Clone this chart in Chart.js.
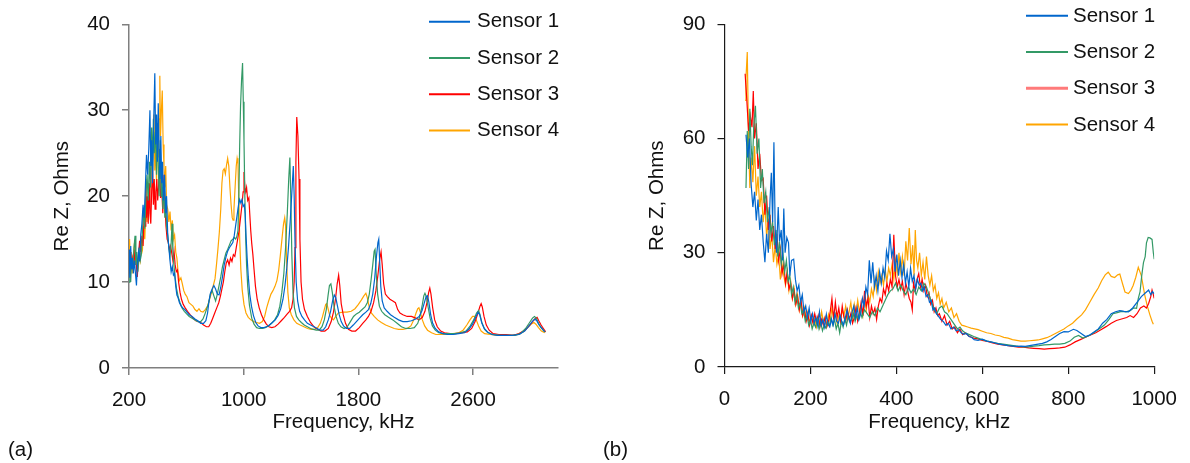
<!DOCTYPE html>
<html>
<head>
<meta charset="utf-8">
<script src="https://cdn.jsdelivr.net/npm/chart.js@4.4.1/dist/chart.umd.min.js"></script>
<style>
  html, body { margin: 0; padding: 0; background: #fff; }
  #wrap { position: relative; width: 1190px; height: 463px; }
  canvas { position: absolute; top: 0; }
</style>
</head>
<body>
<div id="wrap">
  <canvas id="chart-a" width="595" height="463" style="left:0"></canvas>
  <canvas id="chart-b" width="595" height="463" style="left:595px"></canvas>
</div>
<script>
// Panel (a): [frequency kHz, Re Z Ohms]
const s1a = [[200,13.8],[206,10.5],[212,14.2],[218,11.5],[224,12.8],[230,11],[238,12.5],[246,10.8],[252,9.6],[258,12],[266,13.5],[274,12.4],[282,15.5],[290,16.8],[298,19],[306,17.5],[314,21],[322,24.8],[330,22.5],[338,25.5],[346,30],[352,23.5],[358,26.5],[364,21.5],[372,28.5],[380,34.3],[386,26],[392,29.5],[398,24],[404,30.8],[410,25.5],[416,22],[422,27],[428,21.5],[434,24],[440,19.5],[448,22.5],[456,18],[462,20],[470,15.5],[478,14],[486,12.5],[494,11.2],[502,11.8],[510,10.8],[518,11],[526,9.5],[534,8.5],[542,8.2],[552,7.6],[564,7.2],[576,7],[590,6.8],[604,6.5],[620,6.2],[640,6],[660,5.7],[680,5.5],[700,5.2],[720,5.2],[736,5.5],[748,6.4],[758,7.8],[768,8.7],[780,9.2],[792,9.6],[804,9.2],[816,8.6],[828,8.5],[840,9.4],[852,10.6],[864,12],[876,12.9],[888,13.6],[900,14],[912,14.3],[924,14.6],[934,15.4],[944,16.6],[954,17.8],[964,19],[972,19.6],[980,19.2],[988,19.6],[996,18.8],[1004,19],[1010,18],[1016,15.5],[1024,12.8],[1032,10.6],[1042,8.6],[1054,7.2],[1068,6.1],[1084,5.3],[1100,4.9],[1120,4.7],[1140,4.7],[1160,4.8],[1180,5],[1200,5.3],[1220,5.6],[1240,6.1],[1258,6.9],[1274,8],[1288,9.6],[1300,11.5],[1312,14],[1324,17],[1336,20.5],[1346,23.5],[1352,20],[1358,14.5],[1366,10],[1376,7.8],[1390,6.6],[1406,6],[1424,5.6],[1444,5.2],[1466,5],[1490,4.8],[1512,4.6],[1534,4.4],[1554,4.4],[1572,4.8],[1590,5.6],[1606,6.6],[1620,7.8],[1632,8.5],[1642,8.2],[1654,7.2],[1666,6.2],[1680,5.4],[1696,4.9],[1716,4.6],[1740,4.6],[1764,5],[1786,5.4],[1808,5.8],[1830,6.2],[1852,6.5],[1870,6.8],[1886,7.5],[1900,8.6],[1914,10.5],[1926,13],[1936,14.6],[1942,15],[1948,12.5],[1956,9.5],[1966,7.8],[1980,7],[2000,6.6],[2024,6.2],[2050,5.9],[2080,5.6],[2110,5.4],[2140,5.4],[2170,5.5],[2200,5.7],[2224,6],[2244,6.7],[2260,7.6],[2272,8.3],[2282,8.4],[2292,7.6],[2304,6.2],[2318,5.2],[2336,4.6],[2360,4.2],[2390,4],[2420,3.9],[2460,3.9],[2500,4],[2540,4.1],[2570,4.5],[2596,5.1],[2618,5.9],[2634,6.5],[2646,6.2],[2660,5.3],[2678,4.6],[2700,4.2],[2730,3.9],[2770,3.8],[2820,3.8],[2870,3.8],[2920,3.9],[2960,4.3],[2990,4.9],[3012,5.4],[3030,5.7],[3044,5.5],[3060,5],[3080,4.6],[3100,4.2]];
const s2a = [[200,10],[206,12.5],[212,10],[218,12.8],[226,11.5],[234,13.8],[242,15.4],[248,12],[254,13.5],[262,11.2],[270,14],[278,12.5],[286,13.2],[294,16],[302,18.5],[310,16.2],[318,20],[326,22.5],[334,19.5],[342,24],[350,21],[358,28],[364,23],[370,29],[376,25],[384,27.5],[392,22.5],[398,28.5],[404,24],[410,20],[418,26.5],[424,20],[430,23],[436,18.5],[442,21.5],[450,17.5],[456,19.8],[462,16.5],[470,15.5],[478,14],[486,13],[494,14.5],[500,16.8],[506,13.5],[514,11.8],[522,10.5],[532,9.2],[544,8.2],[556,7.6],[570,7],[586,6.6],[602,6.3],[620,6],[640,5.8],[660,5.6],[680,5.4],[700,5.4],[716,5.7],[730,6.3],[744,7],[756,7.6],[768,8.6],[780,9],[792,8.4],[804,7.8],[816,8.6],[828,9.6],[840,10.6],[852,11.8],[864,12.6],[876,13.4],[888,13.8],[900,14.3],[912,14.8],[924,15],[934,15.2],[944,15],[952,15.3],[960,16],[966,20],[972,26],[978,30.5],[985,33.5],[992,35.5],[997,31],[1002,26.5],[1008,20],[1014,15],[1020,12],[1028,9.5],[1040,7.3],[1056,5.8],[1072,5.1],[1090,4.7],[1110,4.6],[1130,4.6],[1150,4.7],[1172,4.9],[1194,5.2],[1216,5.6],[1236,6.2],[1252,7.2],[1266,8.8],[1280,11],[1292,14],[1304,18],[1314,22],[1322,24.5],[1328,20],[1336,13],[1344,8.8],[1354,7],[1368,6],[1384,5.6],[1402,5.3],[1422,5],[1444,4.8],[1466,4.6],[1486,4.5],[1506,4.4],[1526,4.4],[1546,4.8],[1562,5.6],[1576,6.8],[1588,8.4],[1598,9.6],[1608,9.8],[1618,8.8],[1630,7.2],[1644,6],[1660,5.2],[1678,4.8],[1700,4.6],[1722,4.8],[1744,5.4],[1766,6],[1786,6.3],[1806,6.5],[1826,6.8],[1846,7.1],[1862,7.6],[1876,8.6],[1888,10.2],[1900,12],[1910,13.6],[1916,13.8],[1924,11],[1934,8.6],[1946,7.2],[1962,6.6],[1984,6.2],[2010,5.9],[2040,5.6],[2070,5.2],[2100,4.8],[2130,4.6],[2160,4.6],[2190,4.7],[2214,5.2],[2232,6.2],[2246,7.4],[2256,8.4],[2264,8.7],[2274,8.3],[2286,7.1],[2300,5.8],[2316,4.9],[2336,4.4],[2360,4.1],[2390,4],[2430,4],[2470,4],[2510,4.1],[2550,4.3],[2580,4.9],[2604,5.6],[2624,6.4],[2638,6.7],[2648,6.2],[2662,5.2],[2680,4.5],[2704,4.1],[2740,3.9],[2790,3.8],[2840,3.8],[2890,3.8],[2930,4],[2966,4.6],[2994,5.3],[3014,5.8],[3028,6],[3040,5.8],[3056,5.2],[3074,4.7],[3094,4.3],[3104,4.2]];
const s3a = [[200,12],[206,11],[212,13],[218,11.5],[226,12.8],[234,11.8],[242,13.8],[250,12.2],[258,10.6],[266,13],[274,14.8],[282,13.5],[290,15.4],[298,14.2],[306,18],[312,16.5],[317,22],[322,17.5],[328,20],[334,16.8],[340,21.5],[346,18],[352,16.8],[358,20.5],[364,23.8],[370,19],[376,22],[382,18.5],[388,20.5],[394,22],[400,19.5],[406,21],[414,24],[420,19.8],[428,21],[436,18],[444,22.5],[450,19],[458,16.5],[466,15],[474,14.6],[482,13.8],[490,14.2],[498,13.4],[506,12.5],[514,13.6],[522,12],[530,11.2],[538,11.4],[546,10],[556,8.8],[566,8],[578,7.4],[592,7],[608,6.6],[626,6.2],[646,5.8],[666,5.5],[684,5.4],[700,5.3],[720,5],[740,4.8],[756,4.8],[770,5.2],[784,5.8],[798,6.4],[812,7],[826,7.6],[838,8.4],[848,9.2],[858,10],[868,11.2],[878,12.2],[888,12.6],[898,12],[908,12.8],[918,12.4],[928,13.2],[938,13],[948,14],[958,15],[968,16],[978,17.5],[988,19],[996,20.5],[1002,22.8],[1008,21],[1014,20.5],[1020,21],[1028,19.5],[1036,19.8],[1042,18],[1049,16],[1056,14.5],[1064,13.2],[1072,11.5],[1082,9.5],[1094,8],[1108,7],[1124,6.2],[1140,5.6],[1158,5.1],[1176,4.8],[1196,4.7],[1218,4.8],[1240,5.1],[1262,5.5],[1284,5.9],[1304,6.3],[1320,6.6],[1334,7],[1344,8],[1352,10],[1358,14],[1364,24],[1370,29.2],[1378,27],[1386,22],[1392,15],[1400,10],[1410,8],[1424,6.8],[1444,6],[1466,5.3],[1490,4.8],[1514,4.5],[1540,4.3],[1566,4.3],[1590,4.6],[1610,5.4],[1626,6.5],[1640,8],[1652,9.8],[1662,10.8],[1670,9.6],[1680,7.5],[1694,6.2],[1710,5.2],[1730,4.5],[1754,4.3],[1780,4.3],[1806,4.7],[1830,5.2],[1852,5.6],[1870,6],[1888,6.6],[1906,7.6],[1922,9],[1936,10.8],[1948,12.6],[1958,13.5],[1966,12],[1976,9.8],[1988,8.6],[2002,8.3],[2020,8],[2040,7.8],[2058,7.6],[2074,6.8],[2090,6.4],[2110,6.2],[2140,6],[2170,6],[2200,5.8],[2224,5.6],[2246,5.9],[2264,6.6],[2278,7.6],[2290,8.8],[2298,9.3],[2306,8.6],[2318,7],[2332,5.6],[2350,4.8],[2374,4.3],[2400,4.1],[2440,4],[2480,4],[2520,4.1],[2560,4.2],[2590,4.6],[2614,5.4],[2634,6.4],[2648,7.2],[2656,7.5],[2664,7.1],[2676,6],[2692,5],[2712,4.4],[2740,4],[2780,3.9],[2830,3.9],[2880,3.8],[2920,4],[2960,4.4],[2996,5],[3020,5.5],[3036,5.8],[3046,5.9],[3058,5.5],[3074,5],[3090,4.6],[3106,4.2]];
const s4a = [[200,11.5],[204,15],[210,12],[216,13.5],[222,11],[230,12.8],[238,14.5],[246,12],[254,13],[262,11.8],[270,13.2],[278,12.5],[286,14.5],[294,13.8],[302,16.5],[310,15],[318,18.5],[326,17],[334,21.5],[342,19],[350,24],[356,27.5],[362,22],[368,25.5],[374,29.5],[380,23],[386,26.5],[392,21.5],[398,28],[404,24.5],[410,29],[415,34],[420,27],[426,30],[432,32.3],[438,26],[444,23.5],[450,21],[456,23.5],[462,19],[470,18.5],[478,17],[486,18.2],[494,16],[502,17.2],[510,15],[518,15.5],[526,13.5],[534,12.8],[542,11.2],[552,10.2],[562,10.5],[572,9.8],[582,9],[592,8.6],[604,8.3],[618,7.6],[632,7.4],[646,7.2],[660,6.8],[674,6.6],[688,6.9],[700,6.6],[716,6.5],[732,6.8],[748,7.2],[762,8],[776,8.8],[788,9.6],[800,10.4],[810,12],[820,13.8],[830,15.8],[840,18.5],[848,21.5],[856,23],[864,23.2],[872,22.6],[880,23.6],[888,24.4],[896,23.5],[904,21],[912,19],[920,17.5],[926,17.2],[932,18.5],[940,21],[948,23.5],[954,24.4],[960,23.8],[966,19.5],[972,15],[980,11.5],[990,9],[1002,7.4],[1016,6.4],[1032,5.9],[1050,5.6],[1070,5.4],[1090,5.3],[1110,5.2],[1130,5.4],[1146,6],[1160,7],[1174,7.8],[1190,8.6],[1204,9],[1218,9.5],[1232,10.2],[1244,11.4],[1256,13.2],[1268,15.2],[1278,16.8],[1286,17.5],[1292,16.5],[1300,12],[1308,8.8],[1318,7],[1332,6.2],[1350,5.6],[1370,5.2],[1394,5],[1420,4.8],[1446,4.6],[1470,4.5],[1494,4.5],[1516,4.7],[1534,5.2],[1550,6],[1562,6.8],[1572,7.4],[1580,7.5],[1590,6.8],[1600,6.1],[1612,5.8],[1626,5.6],[1642,6],[1660,6.4],[1690,6.5],[1720,6.5],[1750,6.6],[1776,6.9],[1800,7.4],[1820,7.9],[1838,8.4],[1852,8.7],[1862,8.2],[1874,7.2],[1890,6.4],[1910,6],[1934,5.6],[1960,5.3],[1990,5],[2020,4.8],[2050,4.6],[2080,4.5],[2110,4.5],[2140,4.6],[2166,4.9],[2186,5.6],[2202,6.4],[2214,6.9],[2222,7],[2232,6.5],[2246,5.6],[2262,4.9],[2282,4.4],[2310,4.1],[2340,3.9],[2380,3.9],[2420,3.9],[2460,4],[2500,4.1],[2530,4.4],[2556,5],[2578,5.6],[2596,6],[2610,6],[2622,5.6],[2638,4.9],[2656,4.3],[2680,4],[2720,3.9],[2770,3.8],[2820,3.8],[2870,3.8],[2910,3.9],[2950,4.2],[2980,4.7],[3004,5.1],[3024,5.3],[3038,5.1],[3056,4.7],[3076,4.3],[3100,4.1]];

// Panel (b)
const s1b = [[50,61],[54,55],[58,60],[62,48],[66,42],[70,46],[74,38.5],[78,44],[82,36],[86,40],[90,33],[94,27.5],[98,35],[102,30],[106,44],[109,51],[112,38],[115,59],[118,36],[121,30],[125,42],[128,33],[132,36],[135,28],[138,41.6],[141,30],[145,34],[149,32.6],[152,24],[156,28],[161,28.3],[165,23],[169,20],[173,21.5],[177,17],[181,19],[185,14.5],[189,16],[193,13],[197,15.5],[201,12],[205,14],[209,11.5],[213,13],[217,10.8],[221,14.5],[225,11],[229,12.5],[233,10.5],[237,13.8],[241,11.2],[245,10.5],[249,12.5],[253,11],[257,14],[261,12],[265,11.5],[269,13.5],[273,12],[277,11],[281,12.8],[285,15],[289,13],[293,11.5],[297,14.5],[301,16],[305,13],[309,15.5],[313,12.5],[317,14],[321,18],[325,16],[329,21],[333,19],[337,28],[341,22],[345,27.5],[349,21],[353,24],[357,20],[361,25],[365,22],[369,26],[373,23.5],[377,30.5],[381,28],[385,35],[389,29],[393,31],[397,25],[401,29.5],[405,24],[409,28],[413,23.5],[417,27],[421,22],[425,25],[429,21],[433,26],[437,22.5],[441,24],[445,20.5],[449,23],[453,21.5],[457,22],[461,20],[465,21],[469,18.5],[473,19],[477,17],[481,17.5],[485,15],[489,15.5],[493,14],[497,13.5],[503,12.5],[509,12],[515,11],[521,11.5],[527,10],[533,10.5],[539,9.5],[545,9.8],[551,9],[557,8.6],[563,8.8],[569,8],[575,7.8],[581,7.2],[590,7],[600,7.3],[610,6.8],[620,6.6],[630,6.3],[640,6],[650,5.8],[660,5.6],[670,5.5],[680,5.4],[690,5.5],[700,5.4],[710,5.6],[720,5.8],[730,6],[740,6.2],[750,6.6],[760,7.2],[770,8],[780,8.8],[790,9.3],[800,9.2],[812,9.9],[820,9.6],[830,8.8],[840,8],[850,8.4],[860,9.2],[870,10],[880,11.5],[890,12.5],[900,14],[910,14.5],[920,14.8],[930,14.6],[940,14.5],[950,15.5],[960,17],[970,18.5],[980,19.5],[987,20.2],[992,19],[996,19.8],[1000,19.2]];
const s2b = [[50,47],[53,62],[56,52],[59,67.8],[62,58],[65,53],[68,63],[72,68.6],[76,56],[80,60],[84,47],[88,52],[92,43],[96,46],[100,38],[104,42],[108,35],[112,38],[116,32],[120,36],[124,29],[128,33],[132,27],[136,30],[140,25],[144,28],[148,22.5],[152,24],[156,19],[160,21],[164,17],[168,19],[172,15.5],[176,17],[180,14],[184,15],[188,12],[192,13.5],[196,11],[200,12.5],[204,10],[208,11.5],[212,10.5],[216,12.5],[220,10],[224,11.8],[228,9.5],[232,11],[236,10.2],[240,12],[244,10.8],[248,13],[252,11],[256,12.5],[260,10],[264,11.5],[268,9],[272,12],[276,10.5],[280,12.8],[284,11],[288,13.5],[292,11.8],[296,12.5],[300,14],[304,12],[308,13.5],[312,12.5],[316,14.5],[320,13],[326,15],[332,14],[338,13],[344,14.5],[350,13.5],[356,15.5],[362,14.5],[368,16],[374,17.5],[380,19],[386,20],[392,20.5],[398,22],[404,20],[410,21.5],[416,20],[422,19],[428,21],[434,19.5],[440,20.5],[446,19],[452,21],[458,20],[464,22],[470,21],[476,19],[482,17],[488,15],[494,14],[500,15.5],[506,16],[512,14.5],[518,14],[524,13],[530,12],[536,11],[542,10],[548,10.5],[554,9.5],[560,9],[570,8.5],[580,8],[590,7.6],[600,7.2],[612,6.8],[624,6.5],[636,6.2],[648,6],[660,5.8],[672,5.6],[684,5.4],[696,5.3],[708,5.3],[720,5.5],[732,5.6],[744,5.8],[756,5.9],[768,6],[780,6],[792,6.2],[804,6.8],[814,7.8],[824,8.3],[834,7.6],[844,8],[854,8.6],[864,9.4],[874,10.2],[884,11],[894,12.4],[904,14],[914,14.3],[924,14.6],[934,14.5],[944,14.8],[952,15.5],[959,15.4],[963,18],[967,19.7],[971,24],[975,27.4],[979,29],[982,32.6],[986,34],[990,33.9],[995,33.5],[998,30],[1000,28.3]];
const s3b = [[48,77],[52,70],[56,62],[60,66],[64,63],[67,72.5],[70,60],[74,64],[78,52],[82,56],[86,49],[90,49.5],[94,40],[98,45],[102,36],[106,40],[110,33],[114,37],[118,31],[122,35],[126,28],[130,31],[134,24.5],[138,27],[142,22],[146,25],[150,20.5],[154,22],[158,18],[162,20],[166,16.5],[170,18.5],[174,15],[178,17.5],[182,13.5],[186,15],[190,12],[194,14],[198,11],[202,13.5],[206,11.5],[210,14],[214,12],[218,13.5],[222,10.5],[226,12.5],[230,11],[234,13],[238,10.5],[242,12],[246,14.5],[250,18],[254,12.5],[258,17],[262,13],[266,15.5],[270,12],[274,16],[278,13],[282,12],[286,15],[290,12.5],[294,14],[298,11.5],[302,13],[306,15.5],[310,12],[314,14],[318,17],[322,13.5],[326,20],[330,16],[334,18],[338,13],[342,16],[346,14],[350,15.5],[354,12.5],[358,16],[362,18],[366,17],[370,20.5],[374,19],[378,22],[382,20],[386,23],[390,21],[394,34.7],[398,24],[402,21],[406,23],[410,20.5],[414,22.5],[418,19],[422,22],[426,20],[430,18],[434,17],[437,15],[440,22],[444,20],[448,23],[452,24.5],[456,21],[460,23],[464,20],[468,21.5],[472,18.5],[476,19.5],[480,16.5],[484,17.5],[488,14.5],[492,15.5],[496,13.5],[500,14],[506,12],[512,13.5],[518,11],[524,12],[530,10],[536,10.5],[542,9],[548,10],[554,8.5],[560,9],[570,8],[580,7.6],[590,7.4],[600,7],[612,6.7],[624,6.3],[636,6],[648,5.8],[660,5.6],[672,5.4],[684,5.2],[696,5.2],[708,5],[720,4.9],[732,4.8],[744,4.7],[756,4.8],[768,4.9],[780,5],[792,5.2],[804,5.8],[816,6.6],[828,7.2],[840,7.8],[852,8.4],[864,9],[876,9.8],[888,10.6],[900,11.5],[912,12.2],[924,12.6],[936,13],[944,13.5],[952,13],[960,14],[968,15.5],[976,16],[982,15.5],[987,16.7],[992,18.5],[995,20.2],[998,19],[1000,18]];
const s4b = [[48,70],[50,76],[53,82.7],[56,60],[59,47],[62,55],[66,48.5],[70,58],[74,45],[78,50],[82,42],[86,46],[90,38],[94,43],[98,34],[102,39],[106,31],[110,35],[114,27.5],[118,32],[122,27],[126,29.5],[130,23],[134,27],[138,24],[142,21.5],[146,25],[150,20],[154,22.5],[158,18],[162,20.5],[166,16.5],[170,19],[174,15],[178,17.5],[182,13.5],[186,15.5],[190,12.5],[194,14.5],[198,11.5],[202,13.5],[206,11.8],[210,12.8],[214,10.5],[218,13],[222,11.5],[226,14.5],[230,12],[234,13],[238,11],[242,13.8],[246,12],[250,15.5],[254,12.8],[258,14],[262,11.5],[266,13.5],[270,12],[274,15],[278,13.5],[282,16],[286,12.5],[290,14.5],[294,17],[298,13],[302,16.5],[306,14],[310,17.5],[314,14.5],[318,16],[322,13.5],[326,18],[330,15],[334,19],[338,17],[342,20.5],[346,18.5],[350,23],[354,20],[358,25],[362,22],[366,24],[370,21.5],[374,25.5],[378,22.5],[382,26],[386,24],[390,27],[394,23],[398,28],[402,24.5],[406,30],[410,25],[414,29],[418,24],[422,33],[426,28],[430,36.5],[434,27],[438,32],[441,24],[444,36],[447,28],[450,26],[454,30],[458,24],[462,27.5],[466,23],[470,29],[474,24],[478,21.5],[482,24],[486,20],[490,21.5],[494,18],[498,19.5],[502,16.5],[506,18],[510,15.5],[516,17],[522,14.5],[528,15.5],[534,13],[540,14],[546,12],[552,11],[558,10.8],[566,10.5],[574,10.2],[582,10],[590,9.8],[600,9.4],[610,9],[620,8.8],[630,8.4],[640,8.2],[650,7.8],[660,7.6],[670,7.2],[680,7],[690,6.8],[700,6.8],[710,6.9],[720,7],[730,7.1],[740,7.4],[750,7.7],[760,8.2],[770,8.8],[780,9.4],[790,10],[800,10.8],[810,11.5],[820,12.6],[831,13.7],[840,15],[850,17],[860,19],[870,20.8],[878,22.7],[886,24.2],[893,24.9],[900,23.8],[908,23.5],[915,24.2],[920,24.4],[926,22],[932,19.7],[940,19.3],[946,20.2],[951,21.4],[957,23.5],[963,26.2],[970,24],[978,18.9],[984,16],[990,13.7],[995,12],[998,11.2]];

const sensorNames = ['Sensor 1', 'Sensor 2', 'Sensor 3', 'Sensor 4'];
const xTicksA = [200, 1000, 1800, 2600];
const yTicksA = [0, 10, 20, 30, 40];
const xTicksB = [0, 200, 400, 600, 800, 1000];
const yTicksB = [0, 30, 60, 90];
const xTitle = 'Frequency, kHz';
const yTitle = 'Re Z, Ohms';

const sensorColors = ['#0066cc', '#339966', '#ff0000', '#ffa500'];
const FONT = "'Liberation Sans', Arial, Helvetica, sans-serif";
const FONT_SIZE = 20.5;

// draws the line-sample legend inside the plot, plus the (a)/(b) tag
function sensorLegend(cfg) {
    return {
        id: 'sensorLegend',
        afterDraw(chart) {
            const ctx = chart.ctx;
            ctx.save();
            ctx.font = FONT_SIZE + 'px ' + FONT;
            ctx.textBaseline = 'alphabetic';
            chart.data.datasets.forEach((ds, i) => {
                const base = cfg.base + i * cfg.step;
                const own = (cfg.lines && cfg.lines[i]) || {};
                ctx.strokeStyle = own.color || ds.borderColor;
                ctx.lineWidth = own.width || 2;
                ctx.beginPath();
                ctx.moveTo(cfg.lineX[0], base - cfg.lift);
                ctx.lineTo(cfg.lineX[1], base - cfg.lift);
                ctx.stroke();
                ctx.fillStyle = '#111';
                ctx.fillText(ds.label, cfg.textX, base);
            });
            ctx.fillStyle = '#111';
            ctx.fillText(cfg.panel, 8, 456);
            ctx.restore();
        }
    };
}

function makeChart(id, series, ax, legendCfg) {
    const font = { family: FONT, size: FONT_SIZE };
    const tickText = (v) => String(v);
    return new Chart(document.getElementById(id), {
        type: 'line',
        data: {
            datasets: series.map((pts, i) => ({
                label: sensorNames[i],
                data: pts.map(([f, z]) => ({ x: f, y: z })),
                borderColor: sensorColors[i],
                borderWidth: 1.2,
                pointRadius: 0,
                fill: false,
                tension: 0,
            })),
        },
        options: {
            responsive: false,
            animation: false,
            devicePixelRatio: 1,
            events: [],
            layout: { padding: ax.padding },
            plugins: {
                legend: { display: false },
                tooltip: { enabled: false },
            },
            scales: {
                x: {
                    type: 'linear',
                    min: ax.xMin,
                    max: ax.xMax,
                    afterBuildTicks: (s) => { s.ticks = ax.xTicks.map(v => ({ value: v })); },
                    afterFit: (s) => { s.height = ax.xHeight; },
                    border: { color: ax.axisColor, width: ax.axisWidth },
                    grid: { drawOnChartArea: false, color: ax.axisColor, lineWidth: ax.axisWidth, tickLength: 7 },
                    ticks: { font, color: '#111', padding: 13, maxRotation: 0, autoSkip: false, callback: tickText },
                    title: { display: true, text: xTitle, font, color: '#111', padding: { top: 0, bottom: 28 } },
                },
                y: {
                    min: 0,
                    max: ax.yMax,
                    afterBuildTicks: (s) => { s.ticks = ax.yTicks.map(v => ({ value: v })); },
                    afterFit: (s) => { s.width = ax.yWidth; },
                    border: { color: ax.axisColor, width: ax.axisWidth },
                    grid: { drawOnChartArea: false, color: ax.axisColor, lineWidth: ax.axisWidth, tickLength: 7 },
                    ticks: { font, color: '#111', padding: 12, autoSkip: false, callback: tickText },
                    title: { display: true, text: yTitle, font, color: '#111', padding: { top: 50, bottom: 0 } },
                },
            },
        },
        plugins: [sensorLegend(legendCfg)],
    });
}

makeChart('chart-a', [s1a, s2a, s3a, s4a], {
    padding: { left: 0, right: 37, top: 24, bottom: 0 },
    xMin: 200, xMax: 3192, xTicks: xTicksA, xHeight: 95,
    yMax: 40, yTicks: yTicksA, yWidth: 129,
    axisColor: '#7f7f7f', axisWidth: 1.5,
}, { lineX: [429, 470], textX: 477, base: 27.3, step: 36.2, lift: 5.5, panel: '(a)' });

makeChart('chart-b', [s1b, s2b, s3b, s4b], {
    padding: { left: 0, right: 34, top: 17, bottom: 0 },
    xMin: 0, xMax: 1000, xTicks: xTicksB, xHeight: 96,
    yMax: 90, yTicks: yTicksB, yWidth: 129.5,
    axisColor: '#1a1a1a', axisWidth: 1.2,
}, { lineX: [431, 473], textX: 478, base: 21.7, step: 36.3, lift: 6, panel: '(b)',
     lines: [null, null, { color: '#ff7a7a', width: 3 }, null] });
</script>
</body>
</html>
